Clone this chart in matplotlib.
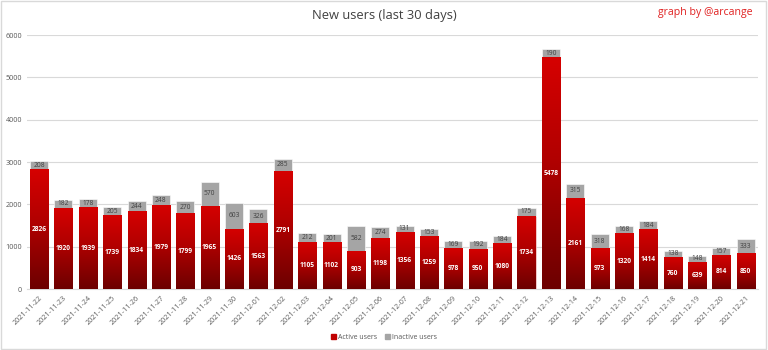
import numpy as np
import pandas as pd
import matplotlib
matplotlib.use("Agg")
import matplotlib.pyplot as plt
from matplotlib.colors import LinearSegmentedColormap
from matplotlib.patches import Patch

#%% data
dates = pd.date_range("2021-11-22", "2021-12-21").strftime("%Y-%m-%d").tolist()
active = [2826, 1920, 1939, 1739, 1834, 1979, 1799, 1965, 1426, 1563,
          2791, 1105, 1102, 903, 1198, 1356, 1259, 978, 950, 1080,
          1734, 5478, 2161, 973, 1320, 1414, 760, 639, 814, 850]
inactive = [208, 182, 178, 205, 244, 248, 270, 570, 603, 326,
            285, 212, 201, 582, 274, 131, 153, 169, 192, 184,
            175, 190, 315, 318, 168, 184, 138, 148, 157, 333]

#%% figure
plt.rcParams['font.family'] = ['Open Sans', 'DejaVu Sans']
fig = plt.figure(figsize=(7.68, 3.5), dpi=100)
ax = fig.add_axes([0.035, 0.174, 0.952, 0.726])

x = np.arange(len(dates))
w = 0.74
red_grad = LinearSegmentedColormap.from_list(
    "redgrad", [(0, "#6c0000"), (0.55, "#b00000"), (1, "#d60000")])
grad = np.linspace(0, 1, 256).reshape(-1, 1)

bars = ax.bar(x, active, w, color="#c00000", edgecolor="white", linewidth=0.4, zorder=2)
ax.bar(x, inactive, w, bottom=active, color="#a5a5a5", edgecolor="white", linewidth=0.4, zorder=2)

# vertical gradient inside each active bar
for b in bars:
    x0, y0 = b.get_x(), b.get_y()
    im = ax.imshow(grad, cmap=red_grad, aspect="auto", origin="lower",
                   extent=[x0, x0 + b.get_width(), y0, y0 + b.get_height()], zorder=3)
    im.set_clip_path(b)

for i in range(len(dates)):
    ax.text(x[i], active[i] / 2, str(active[i]), ha="center", va="center",
            color="white", fontsize=4.8, fontweight="bold", zorder=4)
    ax.text(x[i], active[i] + inactive[i] / 2, str(inactive[i]), ha="center", va="center",
            color="#404040", fontsize=4.8, zorder=4)

ax.set_xlim(-0.5, len(dates) - 0.5)
ax.set_ylim(0, 6000)
ax.set_yticks(range(0, 6001, 1000))
ax.set_xticks(x)
ax.set_xticklabels(dates, rotation=45, ha="right", rotation_mode="anchor")
ax.tick_params(axis="both", length=0, labelsize=5.2, colors="#595959")
ax.tick_params(axis="x", pad=4)
ax.grid(axis="y", color="#d9d9d9", linewidth=0.8, zorder=0)
ax.set_axisbelow(True)
for s in ["top", "right", "left"]:
    ax.spines[s].set_visible(False)
ax.spines["bottom"].set_color("#d9d9d9")

fig.text(0.5, 0.955, "New users (last 30 days)", ha="center", va="center",
         fontsize=9.3, color="#404040")
fig.text(0.918, 0.965, "graph by @arcange", ha="center", va="center",
         fontsize=7.6, color="#e02020")

handles = [Patch(color="#c00000"), Patch(color="#a5a5a5")]
fig.legend(handles, ["Active users", "Inactive users"], loc="center",
           bbox_to_anchor=(0.5, 0.035), ncol=2, frameon=False, fontsize=5,
           handlelength=0.7, handleheight=0.7, handletextpad=0.3, columnspacing=1.2,
           labelcolor="#595959")

fig.patches.append(plt.Rectangle((0.001, 0.002), 0.997, 0.996, transform=fig.transFigure,
                                 fill=False, edgecolor="#d9d9d9", linewidth=1))

fig.savefig("out.png", dpi=100)
